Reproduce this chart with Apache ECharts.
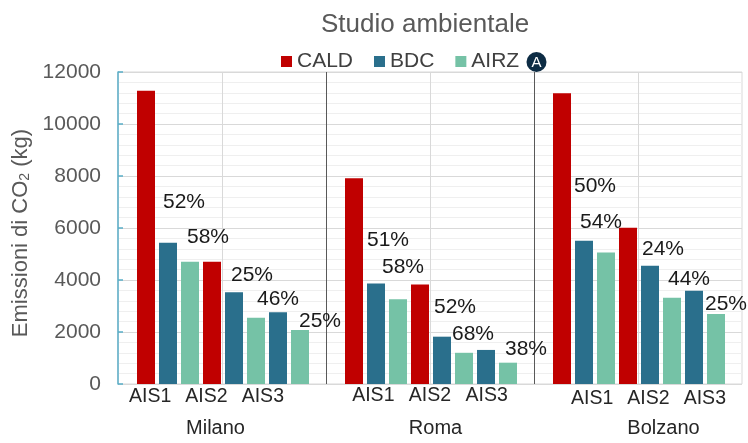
<!DOCTYPE html>
<html><head><meta charset="utf-8">
<script src="https://cdn.jsdelivr.net/npm/echarts@6/dist/echarts.min.js"></script>
<style>html,body{margin:0;padding:0;background:#fff}#c{width:748px;height:443px}</style>
</head><body><div id="c"></div>
<script>
// ---------- data ----------
const titleText = 'Studio ambientale';
const seriesNames = ['CALD', 'BDC', 'AIRZ'];
const cities = ['Milano', 'Roma', 'Bolzano'];
const scenarios = ['AIS1', 'AIS2', 'AIS3'];
const yTicks = [0, 2000, 4000, 6000, 8000, 10000, 12000];
const yName = 'Emissioni di CO{s|2} (kg)';
const panelTag = 'A';

const milanoCALD = [11280, 4700, null];
const milanoBDC  = [5430, 3530, 2760];
const milanoAIRZ = [4700, 2550, 2080];
const romaCALD = [7910, 3830, null];
const romaBDC  = [3870, 1820, 1310];
const romaAIRZ = [3260, 1200, 820];
const bolzanoCALD = [11180, 6010, null];
const bolzanoBDC  = [5510, 4550, 3590];
const bolzanoAIRZ = [5060, 3320, 2690];

// reduction percentages (labels)
const milanoBDCpct  = [52, 25, null];
const milanoAIRZpct = [58, 46, 25];
const romaBDCpct  = [51, 52, null];
const romaAIRZpct = [58, 68, 38];
const bolzanoBDCpct  = [50, 24, null];
const bolzanoAIRZpct = [54, 44, 25];

// ---------- styles / layout ----------
const colors = ['#c00000', '#2a6f8c', '#75c2a6'];
const FONT = 'Liberation Sans, Arial, sans-serif';
const plot = {left: 118, top: 72, width: 624, height: 312};
const barGridLeft = [135, 343, 551];
const barGridWidth = 176;
const labelGridLeft = [122, 345, 564];
const labelGridWidth = [169, 170, 169];
const aisMargin = [11, 15, 10];
const cityGap = [42, 47, 39];
const cityPad = [18, 11, 30];
// label shifts [dx, dy] of the label centre from the bar top centre
const labelShift = [
  [null, [[16, -41], [18, -17], null], [[18, -25], [22, -18], [20, -9]]],
  [null, [[12, -43], [13, -29], null], [[5, -32], [9, -19], [18, -13]]],
  [null, [[11, -55], [13, -16], null], [[-5, -30], [17, -18], [10, -10]]]
];

const cityVals = [
  [milanoCALD, milanoBDC, milanoAIRZ],
  [romaCALD, romaBDC, romaAIRZ],
  [bolzanoCALD, bolzanoBDC, bolzanoAIRZ]
];
const cityPct = [
  [null, milanoBDCpct, milanoAIRZpct],
  [null, romaBDCpct, romaAIRZpct],
  [null, bolzanoBDCpct, bolzanoAIRZpct]
];

const grids = [{left: plot.left, top: plot.top, width: plot.width, height: plot.height,
  show: true, borderColor: '#d9d9d9', borderWidth: 1, backgroundColor: 'transparent'}];
const xAxes = [{
  gridIndex: 0, type: 'value', min: 0, max: 6, interval: 1,
  axisLine: {show: false}, axisTick: {show: false}, axisLabel: {show: false},
  splitLine: {show: true, showMinLine: false, showMaxLine: false,
    lineStyle: {color: ['#d9d9d9', '#595959'], width: 1}}
}];
const yAxes = [{
  gridIndex: 0, type: 'value', min: yTicks[0], max: yTicks[yTicks.length - 1],
  interval: yTicks[1] - yTicks[0],
  name: yName, nameLocation: 'middle', nameGap: 76, nameRotate: 90,
  nameTextStyle: {fontSize: 22, color: '#595959', fontFamily: FONT, padding: [0, 10, 0, 0],
    rich: {s: {fontSize: 14, color: '#595959', fontFamily: FONT, verticalAlign: 'bottom'}}},
  axisLine: {show: true, lineStyle: {color: '#5aaec8', width: 1.5}},
  axisTick: {show: true, inside: true, length: 5, lineStyle: {color: '#5aaec8', width: 1.5}},
  axisLabel: {fontSize: 21, color: '#595959', margin: 17, fontFamily: FONT,
    formatter: v => String(v)},
  splitLine: {show: true, lineStyle: {color: '#d9d9d9'}},
  minorTick: {show: false, splitNumber: 5},
  minorSplitLine: {show: true, lineStyle: {color: '#efefef'}}
}];
const series = [];

cities.forEach((city, c) => {
  // bar grid
  const gi = grids.length;
  grids.push({left: barGridLeft[c], width: barGridWidth, top: plot.top, height: plot.height});
  const slots = [];
  scenarios.forEach((sc, s) => {
    seriesNames.forEach((nm, k) => {
      if (cityVals[c][k][s] != null) slots.push({k, s});
    });
  });
  xAxes.push({gridIndex: gi, type: 'category', show: false,
    data: slots.map(sl => city + '-' + scenarios[sl.s] + '-' + seriesNames[sl.k])});
  yAxes.push({gridIndex: gi, type: 'value', show: false, min: yTicks[0], max: yTicks[yTicks.length - 1]});
  const xi = xAxes.length - 1, yi = yAxes.length - 1;
  seriesNames.forEach((nm, k) => {
    series.push({
      name: nm, type: 'bar', xAxisIndex: xi, yAxisIndex: yi,
      barWidth: 18, barGap: '-100%',
      itemStyle: {color: colors[k]},
      label: {show: false, position: 'top', distance: 0, fontSize: 21, color: '#1a1a1a', fontFamily: FONT},
      data: slots.map(sl => {
        if (sl.k !== k) return null;
        const v = cityVals[c][k][sl.s];
        const p = cityPct[c][k] ? cityPct[c][k][sl.s] : null;
        if (p == null) return v;
        const sh = labelShift[c][k][sl.s];
        return {value: v, label: {show: true, formatter: p + '%', offset: [sh[0], sh[1] + 10.5]}};
      })
    });
  });
  // scenario label grid
  const li = grids.length;
  grids.push({left: labelGridLeft[c], width: labelGridWidth[c], top: plot.top, height: plot.height});
  xAxes.push({gridIndex: li, type: 'category', data: scenarios,
    axisLine: {show: false}, axisTick: {show: false},
    axisLabel: {fontSize: 19.5, color: '#262626', margin: aisMargin[c], fontFamily: FONT, interval: 0},
    name: city, nameLocation: 'middle', nameGap: cityGap[c],
    nameTextStyle: {fontSize: 20, color: '#262626', fontFamily: FONT, padding: [0, 0, 0, cityPad[c]]}
  });
  yAxes.push({gridIndex: li, type: 'value', show: false, min: 0, max: 1});
});

const chart = echarts.init(document.getElementById('c'));
chart.setOption({
  animation: false,
  backgroundColor: '#ffffff',
  textStyle: {fontFamily: FONT},
  title: {text: titleText, left: 321, top: 12, padding: 0,
    textStyle: {fontSize: 26, fontWeight: 'normal', color: '#595959', fontFamily: FONT}},
  legend: {data: seriesNames, left: 281, top: 51, padding: 0, icon: 'rect', itemWidth: 11, itemHeight: 11,
    itemGap: 21, textStyle: {fontSize: 21, color: '#404040', fontFamily: FONT}},
  graphic: [
    {type: 'circle', shape: {cx: 536.5, cy: 62, r: 10}, style: {fill: '#0d2c44'}, z: 10},
    {type: 'text', x: 536.5, y: 62.5, z: 11,
      style: {text: panelTag, fill: '#ffffff', fontSize: 15, fontFamily: FONT,
        textAlign: 'center', textVerticalAlign: 'middle'}}
  ],
  grid: grids,
  xAxis: xAxes,
  yAxis: yAxes,
  series: series
});
</script>
</body></html>
